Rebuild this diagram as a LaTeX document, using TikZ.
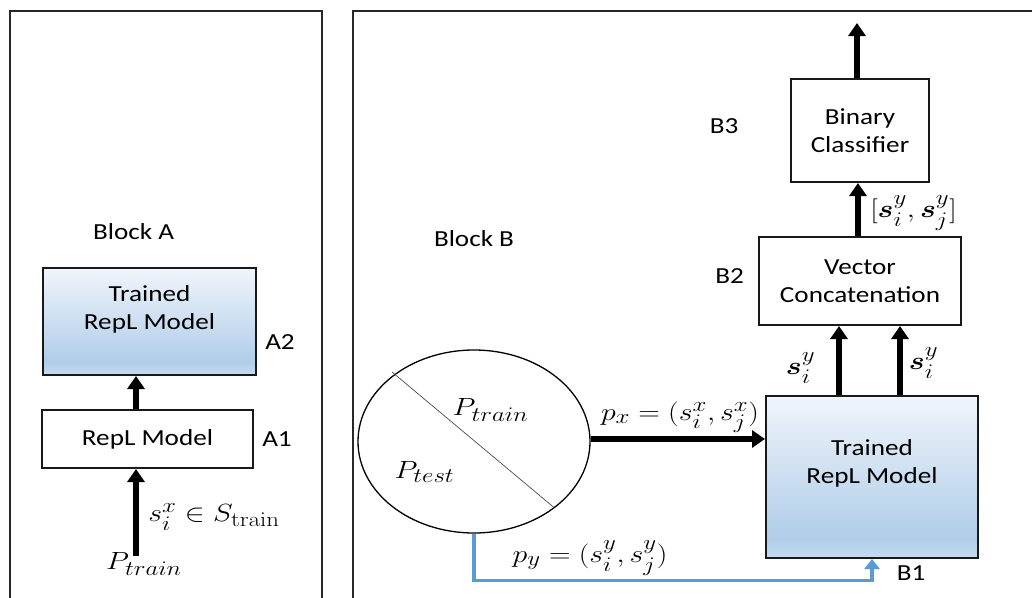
\documentclass[tikz,border=0pt]{standalone}
\usepackage{amsmath}
\usepackage{graphicx}
\usepackage[no-math]{fontspec}
\setmainfont{Carlito}[FakeStretch=1.18]
\usetikzlibrary{arrows.meta,shapes.geometric}
\definecolor{gtop}{RGB}{240,245,251}
\definecolor{gdark}{RGB}{176,205,233}
\definecolor{gbot}{RGB}{198,219,240}
\definecolor{bluel}{RGB}{91,155,213}
\definecolor{frm}{RGB}{40,40,40}
\pgfdeclareverticalshading{replshade}{100bp}{color(0bp)=(gbot); color(25bp)=(gbot); color(31bp)=(gdark); color(75bp)=(gtop); color(100bp)=(gtop)}
\newcommand\mth[1]{\scalebox{1.2}[1]{$#1$}}
\begin{document}
\begin{tikzpicture}[x=1pt,y=-1pt,
  txt/.style={font=\fontsize{23}{28}\selectfont, inner sep=0pt, align=center},
  mlab/.style={font=\fontsize{24.88}{28}\selectfont, inner sep=0pt},
  box/.style={draw=black!90, line width=2pt, inner sep=0pt, font=\fontsize{23}{28}\selectfont, align=center},
  repl/.style={box, shade, shading=replshade},
  big/.style={line width=6pt, -{Triangle[width=17pt,length=13pt]}},
  bluearr/.style={draw=bluel, line width=3.5pt, -{Triangle[width=15pt,length=10pt]}},
  frame/.style={draw=frm, line width=1.5pt}
]
\clip (0,0) rectangle (1032,597);
\useasboundingbox (0,0) rectangle (1032,597);
\fill[white] (0,0) rectangle (1032,597);
% frames
\draw[frame] (10,620) -- (10,11) -- (322,11) -- (322,620);
\draw[frame] (353,620) -- (353,11) -- (1040,11);

% Block A
\node[txt] (blka) at (133.5,232) {Block A};
\node[repl, minimum width=213, minimum height=107] (a2) at (149.5,321.5) {};
\node[txt] (a2t) at (149.5,309) {Trained\\RepL Model};
\node[txt] (a2l) at (280,342) {A2};
\node[box, minimum width=211, minimum height=58] (a1) at (147.5,439) {RepL Model};
\node[txt] (a1l) at (277,439) {A1};
\node[mlab] (ptr) at (144,564) {\mth{P_{train}}};
\node[mlab] (six) at (214,517) {\mth{s_i^x \in S_{\mathrm{train}}}};
\draw[big] ([xshift=-11.5pt]a1.north) -- ([xshift=-11.5pt]a1.north |- a2.south);
\draw[big] ([xshift=-11.5pt,yshift=-3pt]a1.south |- ptr.north) -- ([xshift=-11.5pt]a1.south);

% Block B
\node[txt] (blkb) at (474,239) {Block B};
\node[draw, ellipse, line width=1.3pt, minimum width=232, minimum height=183, inner sep=0pt] (e) at (474,441.5) {};
\draw[line width=0.7pt, black!70] ([shift={(-82,-69.5)}]e.center) -- ([shift={(80,66)}]e.center);
\node[mlab] (pe1) at (490.5,410) {\mth{P_{train}}};
\node[mlab] (pe2) at (424.5,472) {\mth{P_{test}}};

\node[repl, minimum width=212, minimum height=162] (b1) at (872,477) {};
\node[txt] (b1t) at (872,463.5) {Trained\\RepL Model};
\node[txt] (b1l) at (911,573) {B1};
\node[box, minimum width=202, minimum height=88] (b2) at (860,281) {Vector\\Concatenation};
\node[txt] (b2l) at (729.5,276) {B2};
\node[box, minimum width=138, minimum height=103] (b3) at (860,130.5) {Binary\\Classifier};
\node[txt] (b3l) at (724,126) {B3};
\coordinate (out) at (857,23);

\draw[big] ([yshift=2.5pt]e.east) -- ([yshift=2.5pt]e.east -| b1.west);
\node[mlab] (lpx) at (680,417) {\mth{p_x=(s_i^x,s_j^x)}};
\draw[bluearr] (e.south) -- ++(0,47) -| (b1.south);
\node[mlab] (lpy) at (590,558) {\mth{p_y=(s_i^y,s_j^y)}};

\draw[big] ([xshift=-33pt]b1.north) -- ([xshift=-33pt]b1.north |- b2.south);
\draw[big] ([xshift=28pt]b1.north) -- ([xshift=28pt]b1.north |- b2.south);
\node[mlab] (ls1) at (800.5,368) {\mth{\boldsymbol{s}_i^y}};
\node[mlab] (ls2) at (923.5,363) {\mth{\boldsymbol{s}_i^y}};
\draw[big] ([xshift=-2pt]b2.north) -- ([xshift=-2pt]b3.south);
\node[mlab] (lcat) at (913.5,213) {\mth{[\boldsymbol{s}_i^y,\boldsymbol{s}_j^y]}};
\draw[big] ([xshift=-3pt]b3.north) -- (out);
\end{tikzpicture}
\end{document}
